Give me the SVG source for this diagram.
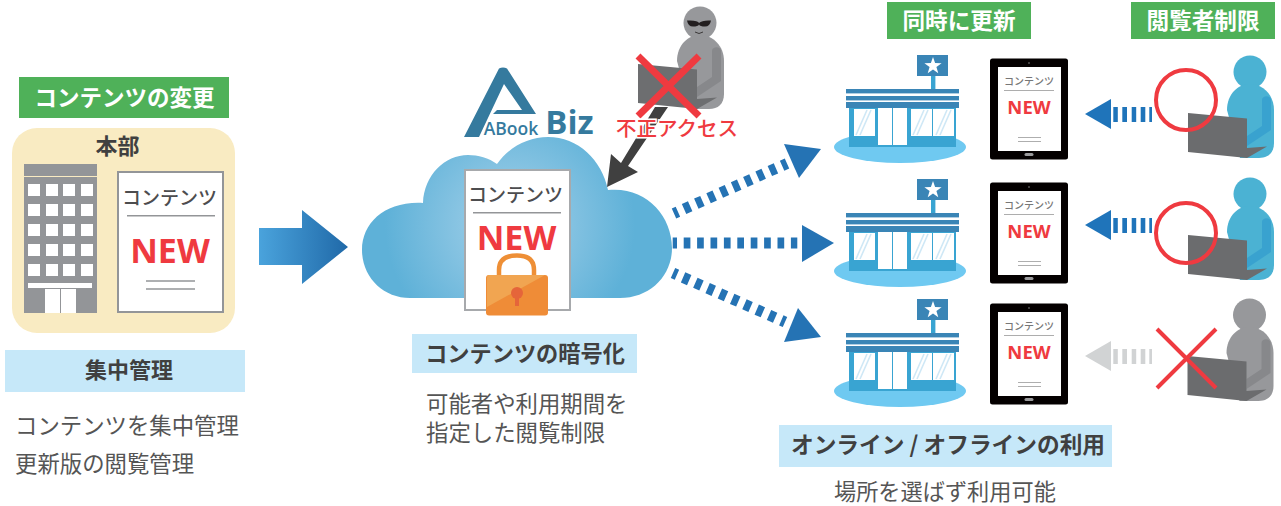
<svg xmlns="http://www.w3.org/2000/svg" xmlns:xlink="http://www.w3.org/1999/xlink" width="1281" height="506" viewBox="0 0 1281 506">
<style>
text{font-family:"Noto Sans CJK JP","Noto Sans",sans-serif;text-anchor:middle}
.g{fill:#4fb159}.lb{fill:#c6e8f9}
.wh{fill:#fff;font-weight:700}
.hd{fill:#404040;font-weight:700}
.bd{fill:#555;text-anchor:start}
.new{fill:#ef3a40;font-weight:700;font-family:"Open Sans","Noto Sans",sans-serif}
.dk{fill:#4d4d4f;font-weight:500}
.gl{stroke:#939598;stroke-width:1.6}
.dash{fill:none;stroke:#2573b4;stroke-width:11;stroke-dasharray:6.7 6.7}
.blue{fill:#2573b4}
.x{stroke:#ef3a40;fill:none}
.lat{font-family:"Open Sans","Noto Sans",sans-serif}
</style>
<defs>
<linearGradient id="ga" x1="0" x2="1" y1="0" y2="0"><stop offset="0" stop-color="#4aa3dc"/><stop offset="1" stop-color="#2069a8"/></linearGradient>
<radialGradient id="gc" gradientUnits="userSpaceOnUse" cx="510" cy="225" r="125"><stop offset="0" stop-color="#a7d2ea"/><stop offset="1" stop-color="#5eb1d8"/></radialGradient>
<g id="store">
<ellipse cx="900" cy="147" rx="66" ry="16" fill="#6fc9f1"/>
<rect x="849" y="106" width="107" height="41" fill="#39a4d2"/>
<rect x="846" y="89" width="113" height="4.400" fill="#3a85b6"/>
<rect x="846" y="96" width="113" height="4.400" fill="#3a85b6"/>
<rect x="846" y="102" width="113" height="6" fill="#3a85b6"/>
<rect x="931" y="76" width="4.400" height="13" fill="#39a4d2"/>
<rect x="917" y="55" width="31" height="21" fill="#3a85b6"/>
<polygon fill="#fff" points="933,57 935.1,63.1 941.6,63.2 936.4,67.1 938.3,73.3 933,69.6 927.7,73.3 929.6,67.1 924.4,63.2 930.9,63.1"/>
<rect x="854" y="109" width="21" height="27" fill="#fff"/>
<rect x="911" y="109" width="21" height="27" fill="#fff"/>
<rect x="933" y="109" width="21" height="27" fill="#fff"/>
<path d="M856,135 L867,110 M860,135 L871,110 M913,135 L924,110 M917,135 L928,110 M936,135 L947,110 M940,135 L951,110" stroke="#cfe8f6" stroke-width="1.600"/>
<rect x="878" y="108" width="29" height="37" fill="#fff"/>
<rect x="892" y="108" width="1" height="37" fill="#39a4d2"/>
</g>
<g id="tablet">
<rect x="990" y="58.500" width="78" height="101" rx="2.500" fill="#040000"/>
<rect x="998" y="67" width="63" height="84" fill="#fff"/>
<circle cx="1029" cy="63" r="0.800" fill="#888"/>
<rect x="1024.500" y="153" width="9" height="3" rx="1.500" fill="#9a9a9c"/>
<text x="1029" y="85" font-size="10" font-weight="500" fill="#777">コンテンツ</text>
<rect x="1004" y="90" width="50" height="0.800" fill="#999"/>
<text class="new" x="1029" y="113.500" font-size="18.500">NEW</text>
<path d="M1018,137.500 H1041 M1018,141.500 H1041" stroke="#999" stroke-width="0.800"/>
</g>
<g id="person">
<circle cx="1250" cy="72" r="16.500" style="fill:var(--h)"/>
<path d="M1227,110 C1227,94 1238,84 1250,84 C1263,84 1274,95 1274,110 L1274,143 C1274,153 1268,158 1259,158 L1240,158 Z" style="fill:var(--h)"/>
<path d="M1262,100 C1262,95 1271,95 1271,100 L1271,130 L1247,146 L1247,136 L1262,126 Z" style="fill:var(--a)"/>
<polygon points="1188,113 1247,118.500 1247,148 1267,146.500 1247,158 1188,152" style="fill:var(--l)"/>
</g>
<g id="larrow">
<polygon points="1085,114 1111,99 1111,129"/>
<rect x="1113.300" y="107" width="4.500" height="15"/>
<rect x="1122.300" y="107" width="4.700" height="15"/>
<rect x="1131.700" y="107" width="4.500" height="15"/>
<rect x="1140.700" y="107" width="4.600" height="15"/>
<rect x="1149.300" y="107" width="2.700" height="15"/>
</g>
</defs>

<g id="hq-title"><rect class="g" x="19" y="77" width="210" height="41"/><text class="wh" x="124.500" y="106" font-size="22.500">コンテンツの変更</text></g>
<g id="hq">
<rect x="12" y="128" width="223" height="205" rx="25" fill="#f9ebc2"/>
<text x="117.500" y="153.500" fill="#404040" font-weight="700" font-size="22">本部</text>
<g id="hq-building">
<rect x="24" y="164" width="73" height="149" fill="#939598"/>
<rect x="24" y="176" width="73" height="1" fill="#f9ebc2"/>
<g fill="#fff">
<path d="M28,184h12v12h-12zM46,184h12v12h-12zM63,184h12v12h-12zM81,184h12v12h-12z"/>
<path d="M28,204h12v12h-12zM46,204h12v12h-12zM63,204h12v12h-12zM81,204h12v12h-12z"/>
<path d="M28,224h12v12h-12zM46,224h12v12h-12zM63,224h12v12h-12zM81,224h12v12h-12z"/>
<path d="M28,244h12v12h-12zM46,244h12v12h-12zM63,244h12v12h-12zM81,244h12v12h-12z"/>
<path d="M28,264h12v12h-12zM46,264h12v12h-12zM63,264h12v12h-12zM81,264h12v12h-12z"/>
<rect x="28" y="283" width="64" height="5"/>
<rect x="45" y="289" width="31" height="24"/>
</g>
<rect x="60" y="289" width="1" height="24" fill="#939598"/>
</g>
<g id="hq-doc">
<rect x="118" y="172" width="105" height="140" fill="#fff" stroke="#939598" stroke-width="2"/>
<text class="dk" x="169.500" y="205" font-size="19">コンテンツ</text>
<rect x="127" y="215" width="88" height="1.500" fill="#939598"/>
<text class="new" x="170" y="263" font-size="34">NEW</text>
<path d="M146,281 H195 M146,289 H195" class="gl" fill="none"/>
</g>
</g>
<g id="hq-caption"><rect class="lb" x="5" y="350" width="240" height="42"/><text class="hd" x="129" y="378" font-size="22">集中管理</text>
<text class="bd" x="15" y="434" font-size="22.400">コンテンツを集中管理</text>
<text class="bd" x="15" y="472" font-size="22.400">更新版の閲覧管理</text></g>

<g id="logo" fill="#357a9e">
<path fill-rule="evenodd" d="M499,68.500 Q503,66.500 507,68.500 L536,114 L493,114 L497,110 L522,110 L504,84 L479,137 L464,137 Z"/>
<text class="lat" x="511" y="134.500" font-size="17.500" font-weight="600">ABook</text>
<text class="lat" x="569.500" y="134" font-weight="700" font-size="33">Biz</text>
</g>
<g id="cloud">
<path fill="url(#gc)" d="M410,298 C383,298 362,277 362,250 C362,223 385,201 423,203 C424,175 445,155 468,155 C478,155 489,158 497,164 C509,147 528,137 548,137 C578,137 602,160 608,190 C645,186 672,215 672,248 C672,276 650,298 620,298 Z"/>
<rect x="465" y="170" width="105" height="140" fill="#fff" stroke="#a7a9ac" stroke-width="2"/>
<text class="dk" x="515.500" y="202" font-size="19">コンテンツ</text>
<rect x="473" y="212" width="88" height="1.500" fill="#939598"/>
<text class="new" x="516.500" y="250" font-size="34">NEW</text>
<g id="lock">
<path d="M499,277 V270 C499,259 507,255.500 517,255.500 C527,255.500 534,259 534,270 V277" fill="none" stroke="#ee8f36" stroke-width="4.500"/>
<rect x="486" y="275" width="62" height="40.500" rx="3" fill="#ef8c37"/>
<path d="M489,275 H545 L487,307 V278 Q487,275 489,275 Z" fill="#f1a551"/>
<circle cx="517" cy="293" r="6" fill="#e5653a"/>
<rect x="515" y="295" width="4" height="11" fill="#e5653a"/>
</g>
</g>

<g id="intruder">
<g transform="translate(-550,-49)" style="--h:#97989b;--a:#87888b;--l:#6d6e70"><use xlink:href="#person" href="#person"/></g>
<path d="M687,20.500 Q698,20 699,23 Q702,20 711,20.500 Q710,26.500 705,26.500 Q700,26.500 699,24.500 Q698,26.500 693,26.500 Q688,26.500 687,20.500 Z" fill="#231f20"/>
<path d="M695,32 Q699,35 703,32" fill="none" stroke="#231f20" stroke-width="0.800"/>
</g>

<g id="connectors">
<polygon id="c-main" fill="url(#ga)" points="259,228 302,228 302,210 348,247 302,284 302,265 259,265"/>
<polygon id="c-attack" fill="#404040" points="655,107 668,107 628,166 638,172 607,187 611,154 621,163"/>
<g id="c-up">
<line class="dash" x1="674" y1="213.500" x2="787" y2="163.500" stroke-dashoffset="2.400"/>
<polygon class="blue" points="784,144 821,149 799,178"/>
</g>
<g id="c-mid">
<line class="dash" x1="672.700" y1="243" x2="797.300" y2="243" stroke-dashoffset="2.400"/>
<polygon class="blue" points="802,225 802,262 834,243"/>
</g>
<g id="c-low">
<line class="dash" x1="673" y1="273" x2="785" y2="322" stroke-dashoffset="2.400"/>
<polygon class="blue" points="798,308 821,337 784,342"/>
</g>
<use id="c-v1" href="#larrow" xlink:href="#larrow" fill="#1f74ba"/>
<use id="c-v2" href="#larrow" xlink:href="#larrow" y="111" fill="#1f74ba"/>
<use id="c-v3" href="#larrow" xlink:href="#larrow" y="242" fill="#d1d3d4"/>
</g>

<g id="intruder-mark">
<path class="x" stroke-width="7" d="M638,56 L699,116 M699,56 L638,116"/>
<text x="677" y="136" fill="#ef3a40" font-weight="500" font-size="20.500" stroke="#fff" stroke-width="3" paint-order="stroke">不正アクセス</text>
</g>

<g id="crypt-caption"><rect class="lb" x="412" y="334" width="225" height="39"/><text class="hd" x="525" y="362" font-size="22.200">コンテンツの暗号化</text>
<text class="bd" x="426" y="412" font-size="22.400">可能者や利用期間を</text>
<text class="bd" x="426" y="441" font-size="22.400">指定した閲覧制限</text></g>

<g id="sync-title"><rect class="g" x="887" y="2" width="144" height="37"/><text class="wh" x="959" y="29" font-size="22.600">同時に更新</text></g>
<g id="limit-title"><rect class="g" x="1131" y="2" width="144" height="37"/><text class="wh" x="1203" y="29" font-size="22.600">閲覧者制限</text></g>

<g id="store1"><use href="#store" xlink:href="#store"/></g>
<g id="store2"><use href="#store" xlink:href="#store" y="124"/></g>
<g id="store3"><use href="#store" xlink:href="#store" y="244"/></g>
<g id="tablet1"><use href="#tablet" xlink:href="#tablet"/></g>
<g id="tablet2"><use href="#tablet" xlink:href="#tablet" y="124"/></g>
<g id="tablet3"><use href="#tablet" xlink:href="#tablet" y="245"/></g>

<g id="user1" style="--h:#4bb2d3;--a:#39a2cf;--l:#6b6c6e"><use href="#person" xlink:href="#person"/><circle class="x" cx="1186" cy="100" r="30" stroke-width="4"/></g>
<g id="user2" style="--h:#4bb2d3;--a:#39a2cf;--l:#6b6c6e"><use href="#person" xlink:href="#person" y="122"/><circle class="x" cx="1186" cy="233" r="30" stroke-width="4"/></g>
<g id="user3" style="--h:#97989b;--a:#87888b;--l:#6b6c6e"><use href="#person" xlink:href="#person" x="-0.500" y="243"/><path class="x" stroke-width="4" d="M1157,329 L1216,388 M1216,329 L1157,388"/></g>

<g id="use-caption"><rect class="lb" x="779" y="425" width="333" height="42"/><text class="hd" x="948" y="453" font-size="22.700">オンライン / オフラインの利用</text>
<text class="bd" x="834" y="500" font-size="22.200">場所を選ばず利用可能</text></g>
</svg>
